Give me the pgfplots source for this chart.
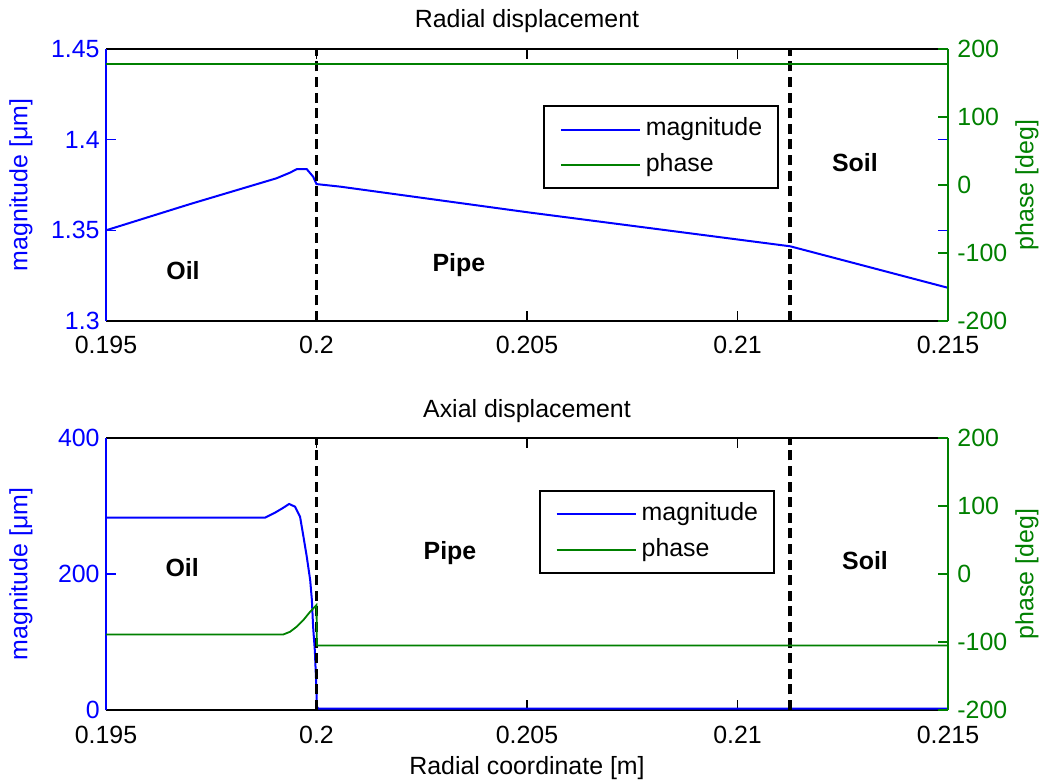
\documentclass[border=0pt]{standalone}
\usepackage{fontspec}
\setmainfont{Liberation Sans}
\usepackage{pgfplots}
\pgfplotsset{compat=1.18}
\definecolor{mblue}{rgb}{0,0,1}
\definecolor{mgreen}{rgb}{0,0.5,0}

\pgfplotsset{
  base/.style={
    scale only axis, width=421bp, height=136bp,
    xmin=0.195, xmax=0.215,
    xtick={0.195,0.2,0.205,0.21,0.215},
    scaled x ticks=false, scaled y ticks=false,
    font=\fontsize{12.5}{15}\selectfont,
    /pgf/number format/assume math mode=true,
    major tick length=5bp,
    tick align=inside,
    clip mode=individual,
  },
  leftax/.style={base,
    separate axis lines,
    x axis line style={black, line width=1.4bp},
    y axis line style={mblue, line width=1.4bp},
    ytick style={mblue, line width=0.8bp},
    xtick style={black, line width=0.8bp},
    yticklabel style={mblue, anchor=east, inner sep=0pt, xshift=-3bp},
    xticklabels={0.195,0.2,0.205,0.21,0.215},
    xticklabel style={black, anchor=base, inner sep=0pt, yshift=-16.5bp},
    every axis y label/.style={at={(rel axis cs:0,0.5)}, rotate=90, anchor=center, yshift=42.5bp, mblue},
    every axis x label/.style={at={(rel axis cs:0.5,0)}, anchor=base, yshift=-32bp, black},
    every axis title/.style={at={(rel axis cs:0.5,1)}, anchor=base, yshift=10.5bp, inner sep=0pt},
  },
  rightax/.style={base,
    axis x line=none,
    axis y line*=right,
    ymin=-200, ymax=200, ytick={-200,-100,0,100,200},
    y axis line style={mgreen, line width=1.4bp},
    ytick style={mgreen, line width=0.8bp},
    yticklabel style={mgreen, anchor=west, inner sep=0pt, xshift=4.5bp},
    every axis y label/.style={at={(rel axis cs:1,0.5)}, rotate=90, anchor=center, yshift=-39.5bp, mgreen},
    legend image code/.code={\draw[#1, line width=1bp] (0bp,0bp) -- (39.5bp,0bp);},
    legend style={draw=black, line width=0.9bp, inner xsep=8bp, inner ysep=6bp,
      nodes={inner sep=0pt, anchor=west, text height=9bp, text depth=2.6bp},
      column sep=2.5bp, row sep=6bp, font=\fontsize{12.5}{15}\selectfont},
    legend cell align=left,
  },
  magline/.style={mblue, line width=1bp},
  phline/.style={mgreen, line width=0.9bp},
  regline/.style={black, line width=1.8bp, dash pattern=on 5bp off 2.8bp},
}

\begin{document}
\begin{tikzpicture}
\useasboundingbox (-53bp,-35bp) rectangle (468.5bp,355bp);

% ---------------- Top: radial displacement ----------------
\begin{axis}[leftax, at={(0bp,194.5bp)}, anchor=south west,
  ymin=1.3, ymax=1.45, ytick={1.3,1.35,1.4,1.45},
  ylabel={magnitude [μm]}, title={Radial displacement}]
\addplot[magline] coordinates {
(0.19500,1.3500) (0.19700,1.3645) (0.19905,1.3787) (0.19937,1.3818)
(0.19953,1.3837) (0.19977,1.3837) (0.19992,1.3796) (0.20000,1.3755)
(0.20056,1.3741) (0.20500,1.3600) (0.21125,1.3412) (0.21500,1.3183)};
\addplot[regline] coordinates {(0.2,1.3) (0.2,1.45)};
\addplot[regline] coordinates {(0.21125,1.3) (0.21125,1.45)};
\draw[mblue, line width=1.4bp] (rel axis cs:0,0) -- (rel axis cs:0,1);
\node[font=\fontsize{12.5}{15}\selectfont\bfseries] at (axis cs:0.19683,1.3276) {Oil};
\node[font=\fontsize{12.5}{15}\selectfont\bfseries] at (axis cs:0.20338,1.3309) {Pipe};
\node[font=\fontsize{12.5}{15}\selectfont\bfseries] at (axis cs:0.21279,1.3871) {Soil};
\end{axis}
\begin{axis}[rightax, at={(0bp,194.5bp)}, anchor=south west,
  ylabel={phase [deg]},
  legend style={at={(rel axis cs:0.519,0.794)}, anchor=north west}]
\addlegendimage{magline}
\addlegendentry{magnitude}
\addplot[phline] coordinates {(0.195,178) (0.215,178)};
\addlegendentry{phase}
\end{axis}

% ---------------- Bottom: axial displacement ----------------
\begin{axis}[leftax, at={(0bp,0bp)}, anchor=south west,
  ymin=0, ymax=400, ytick={0,200,400},
  ylabel={magnitude [μm]}, title={Axial displacement},
  xlabel={Radial coordinate [m]}]
\addplot[magline] coordinates {
(0.19500,283) (0.19878,283) (0.19901,290) (0.19920,297) (0.19935,303)
(0.19949,299) (0.19961,284) (0.19969,255) (0.19977,225) (0.19985,191)
(0.19989,162) (0.19992,122) (0.19996,88) (0.19999,44) (0.20001,5)
(0.20004,2) (0.21500,2)};
\addplot[regline] coordinates {(0.2,0) (0.2,400)};
\addplot[regline] coordinates {(0.21125,0) (0.21125,400)};
\draw[mblue, line width=1.4bp] (rel axis cs:0,0) -- (rel axis cs:0,1);
\node[font=\fontsize{12.5}{15}\selectfont\bfseries] at (axis cs:0.19681,210) {Oil};
\node[font=\fontsize{12.5}{15}\selectfont\bfseries] at (axis cs:0.20317,231) {Pipe};
\node[font=\fontsize{12.5}{15}\selectfont\bfseries] at (axis cs:0.21303,219) {Soil};
\end{axis}
\begin{axis}[rightax, at={(0bp,0bp)}, anchor=south west,
  ylabel={phase [deg]},
  legend style={at={(rel axis cs:0.514,0.809)}, anchor=north west}]
\addlegendimage{magline}
\addlegendentry{magnitude}
\addplot[phline] coordinates {
(0.19500,-89) (0.19921,-89) (0.19937,-85) (0.19953,-77.5) (0.19969,-67.6)
(0.19985,-55.4) (0.20000,-45.6) (0.20001,-105) (0.21500,-105)};
\addlegendentry{phase}
\end{axis}
\end{tikzpicture}
\end{document}
